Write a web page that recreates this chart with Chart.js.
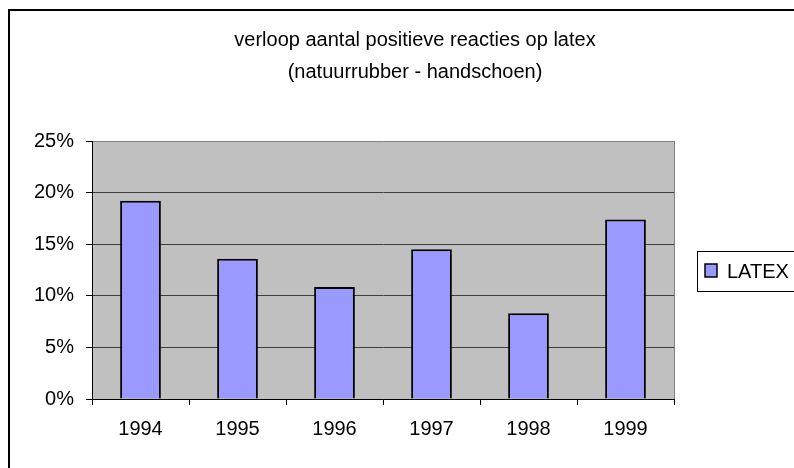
<!DOCTYPE html>
<html>
<head>
<meta charset="utf-8">
<script src="https://cdn.jsdelivr.net/npm/chart.js@4"></script>
<style>
  html, body { margin: 0; padding: 0; background: #fff; }
  canvas { display: block; }
</style>
</head>
<body>
<canvas id="chart" width="794" height="468"></canvas>
<script>
// values (percentages)
var years = ["1994", "1995", "1996", "1997", "1998", "1999"];
var latex = [19.2, 13.6, 10.85, 14.5, 8.3, 17.4];
var title_lines = ["verloop aantal positieve reacties op latex", "(natuurrubber - handschoen)"];
var FONT = "'Liberation Sans', Arial, sans-serif";

//grey plot area + outer frame, title and legend drawn by hand
var frame_plugin = {
  id: 'frame',
  beforeDraw: function(chart) {
    var ctx = chart.ctx, a = chart.chartArea;
    ctx.save();
    ctx.fillStyle = '#fff';
    ctx.fillRect(0, 0, chart.width, chart.height);
    ctx.strokeStyle = '#000';
    ctx.lineWidth = 2;
    ctx.strokeRect(9, 10, 800, 470);
    ctx.fillStyle = '#C0C0C0';
    ctx.fillRect(a.left, a.top, a.right - a.left, a.bottom - a.top);
    ctx.restore();
  },
  afterDraw: function(chart) {
    var ctx = chart.ctx, a = chart.chartArea;
    ctx.save();
    // right edge of plot area
    ctx.strokeStyle = '#808080';
    ctx.lineWidth = 1;
    ctx.beginPath();
    ctx.moveTo(a.right + 0.5, a.top);
    ctx.lineTo(a.right + 0.5, a.bottom);
    ctx.stroke();

    // title
    ctx.fillStyle = '#000';
    ctx.font = '20px ' + FONT;
    ctx.textAlign = 'center';
    ctx.textBaseline = 'middle';
    ctx.fillText(title_lines[0], 415, 40);
    ctx.fillText(title_lines[1], 415, 72);

    // legend
    var ds = chart.data.datasets[0];
    ctx.strokeStyle = '#000';
    ctx.lineWidth = 1;
    ctx.strokeRect(697.5, 251.5, 110, 40);
    ctx.fillStyle = ds.backgroundColor;
    ctx.fillRect(705, 264, 12, 13);
    ctx.lineWidth = 1.5;
    ctx.strokeRect(705, 264, 12, 13);
    ctx.fillStyle = '#000';
    ctx.textAlign = 'left';
    ctx.fillText(ds.label, 727, 272);
    ctx.restore();
  }
};

function create_chart() {
  var ctx = document.getElementById('chart').getContext('2d');
  return new Chart(ctx, {
    type: 'bar',
    data: {
      labels: years,
      datasets: [{
        label: 'LATEX',
        data: latex,
        backgroundColor: '#9999FF',
        borderColor: '#000',
        borderWidth: 2,
        barPercentage: 0.42,
        categoryPercentage: 1
      }]
    },
    options: {
      responsive: false,
      animation: false,
      layout: { padding: { left: 0, top: 141, right: 120, bottom: 0 } },
      plugins: {
        legend: { display: false },
        title: { display: false },
        tooltip: { enabled: false }
      },
      scales: {
        x: {
          offset: true,
          grid: {
            offset: true,
            drawOnChartArea: false,
            color: '#000',
            tickLength: 6
          },
          border: { color: '#000', width: 1 },
          ticks: { color: '#000', font: { family: FONT, size: 20 }, padding: 12, maxRotation: 0 },
          afterFit: function(s) { s.height = 69; }
        },
        y: {
          min: 0,
          max: 25,
          grid: {
            color: function(c) {
              if (c.tick && c.tick.value === 25) return '#808080';
              if (c.tick && c.tick.value === 0) return '#000';
              return '#404040';
            },
            tickColor: '#000',
            tickLength: 6
          },
          border: { color: '#000', width: 1 },
          ticks: {
            stepSize: 5,
            color: '#000',
            font: { family: FONT, size: 20 },
            padding: 12,
            callback: function(v) { return v + '%'; }
          },
          afterFit: function(s) { s.width = 92; }
        }
      }
    },
    plugins: [frame_plugin]
  });
}

var chart = create_chart();
</script>
</body>
</html>
